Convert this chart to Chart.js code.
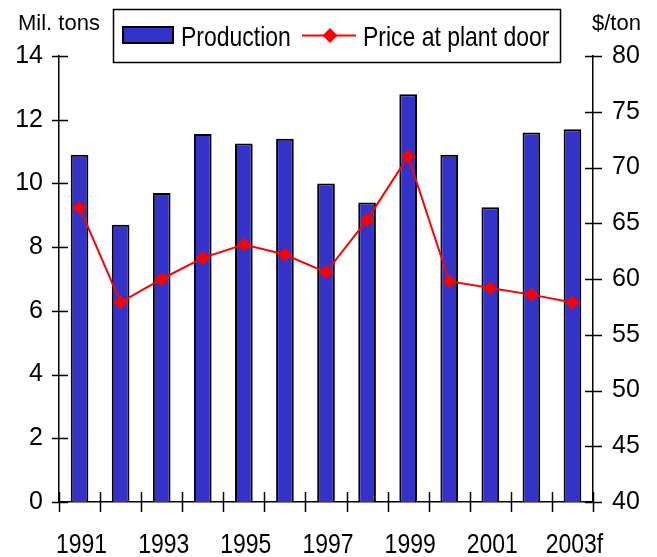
<!DOCTYPE html>
<html>
<head>
<meta charset="utf-8">
<script src="https://cdn.jsdelivr.net/npm/chart.js@4"></script>
<style>
html,body{margin:0;padding:0;background:#fff;}
#wrap{width:657px;height:557px;}
</style>
</head>
<body>
<div id="wrap"><canvas id="c" width="657" height="557"></canvas></div>
<script>
const categories = ['1991','1992','1993','1994','1995','1996','1997','1998','1999','2000','2001','2002','2003f'];
const xTickLabels = ['1991','','1993','','1995','','1997','','1999','','2001','','2003f'];
const production = [10.9, 8.7, 9.7, 11.55, 11.25, 11.4, 10.0, 9.4, 12.8, 10.9, 9.25, 11.6, 11.7];
const price = [66.4, 57.9, 60.0, 61.9, 63.1, 62.2, 60.6, 65.3, 71.0, 59.8, 59.2, 58.6, 57.9];
const leftTicks = [0, 2, 4, 6, 8, 10, 12, 14];
const rightTicks = [40, 45, 50, 55, 60, 65, 70, 75, 80];
const leftTitle = 'Mil. tons';
const rightTitle = '$/ton';

const SANS = '"Liberation Sans", Arial, sans-serif';
const CONDENSE = 0.82;

function narrowText(ctx, text, x, y, align) {
  ctx.save();
  ctx.translate(x, y);
  ctx.scale(CONDENSE, 1);
  ctx.textAlign = align;
  ctx.fillText(text, 0, 0);
  ctx.restore();
}

const decorPlugin = {
  id: 'decor',
  afterDraw(chart) {
    const ctx = chart.ctx;
    const x = chart.scales.x, yl = chart.scales.y, yr = chart.scales.y2;
    ctx.save();
    ctx.strokeStyle = '#000';
    ctx.lineWidth = 1.5;
    // y ticks crossing axes
    leftTicks.forEach(v => {
      const p = Math.round(yl.getPixelForValue(v)) + 0.5;
      ctx.beginPath(); ctx.moveTo(yl.right - 7, p); ctx.lineTo(yl.right + 9, p); ctx.stroke();
    });
    rightTicks.forEach(v => {
      const p = Math.round(yr.getPixelForValue(v)) + 0.5;
      ctx.beginPath(); ctx.moveTo(yr.left - 8, p); ctx.lineTo(yr.left + 9, p); ctx.stroke();
    });
    // x ticks at category boundaries
    const n = categories.length;
    for (let i = 0; i <= n; i++) {
      let px;
      if (i === 0) px = x.left;
      else if (i === n) px = x.right;
      else px = (x.getPixelForValue(i - 1) + x.getPixelForValue(i)) / 2;
      px = Math.round(px) + 0.5;
      ctx.beginPath(); ctx.moveTo(px, x.top - 10); ctx.lineTo(px, x.top + 10); ctx.stroke();
    }
    // x tick labels (condensed)
    ctx.fillStyle = '#000';
    ctx.font = '28px ' + SANS;
    ctx.textBaseline = 'alphabetic';
    xTickLabels.forEach((t, i) => {
      if (t) narrowText(ctx, t, x.getPixelForValue(i) + 2, 553, 'center');
    });
    // axis titles
    ctx.font = '22px ' + SANS;
    ctx.textAlign = 'left';
    ctx.fillText(leftTitle, 18, 30);
    ctx.fillText(rightTitle, 592, 30);
    // legend
    ctx.lineWidth = 1.5;
    ctx.strokeRect(113.5, 9.5, 447, 53);
    const ds0 = chart.data.datasets[0], ds1 = chart.data.datasets[1];
    ctx.fillStyle = ds0.backgroundColor;
    ctx.fillRect(123, 27, 50, 16);
    ctx.lineWidth = 2;
    ctx.strokeRect(123, 27, 50, 16);
    ctx.fillStyle = '#000';
    ctx.font = '28px ' + SANS;
    ctx.textBaseline = 'alphabetic';
    narrowText(ctx, ds0.label, 181, 46, 'left');
    ctx.strokeStyle = ds1.borderColor;
    ctx.lineWidth = 2;
    ctx.beginPath(); ctx.moveTo(302, 35.5); ctx.lineTo(356, 35.5); ctx.stroke();
    ctx.fillStyle = ds1.borderColor;
    ctx.beginPath();
    ctx.moveTo(330, 28); ctx.lineTo(337.5, 35.5); ctx.lineTo(330, 43); ctx.lineTo(322.5, 35.5); ctx.closePath(); ctx.fill();
    ctx.fillStyle = '#000';
    narrowText(ctx, ds1.label, 363, 46, 'left');
    ctx.restore();
  }
};

new Chart(document.getElementById('c'), {
  data: {
    labels: categories,
    datasets: [
      {
        type: 'bar',
        label: 'Production',
        data: production,
        yAxisID: 'y',
        backgroundColor: '#3333CC',
        borderColor: '#000',
        borderWidth: 2,
        barPercentage: 0.43,
        categoryPercentage: 1.0,
        order: 1
      },
      {
        type: 'line',
        label: 'Price at plant door',
        data: price,
        yAxisID: 'y2',
        borderColor: '#FF0000',
        backgroundColor: '#FF0000',
        borderWidth: 2,
        pointStyle: 'rectRot',
        pointRadius: 7,
        pointBorderWidth: 0,
        tension: 0,
        order: 0
      }
    ]
  },
  options: {
    responsive: false,
    animation: false,
    devicePixelRatio: 1,
    layout: { padding: { top: 56, left: 0, right: 0, bottom: 0 } },
    plugins: { legend: { display: false }, tooltip: { enabled: false } },
    scales: {
      x: {
        type: 'category',
        offset: true,
        grid: { display: false, drawTicks: false },
        border: { display: true, color: '#000', width: 1.5 },
        ticks: { display: false },
        afterFit(s) { s.height = 55; }
      },
      y: {
        position: 'left',
        min: 0, max: 14,
        grid: { display: false, drawTicks: false },
        border: { display: true, color: '#000', width: 1.5 },
        ticks: {
          stepSize: 2, padding: 16, color: '#000',
          font: { family: SANS, size: 25 }
        },
        afterBuildTicks(s) { s.ticks = leftTicks.map(v => ({ value: v })); },
        afterFit(s) { s.width = 59; }
      },
      y2: {
        position: 'right',
        min: 40, max: 80,
        grid: { display: false, drawTicks: false },
        border: { display: true, color: '#000', width: 1.5 },
        ticks: {
          stepSize: 5, padding: 19, color: '#000',
          font: { family: SANS, size: 25 }
        },
        afterBuildTicks(s) { s.ticks = rightTicks.map(v => ({ value: v })); },
        afterFit(s) { s.width = 64; }
      }
    }
  },
  plugins: [decorPlugin]
});
</script>
</body>
</html>
